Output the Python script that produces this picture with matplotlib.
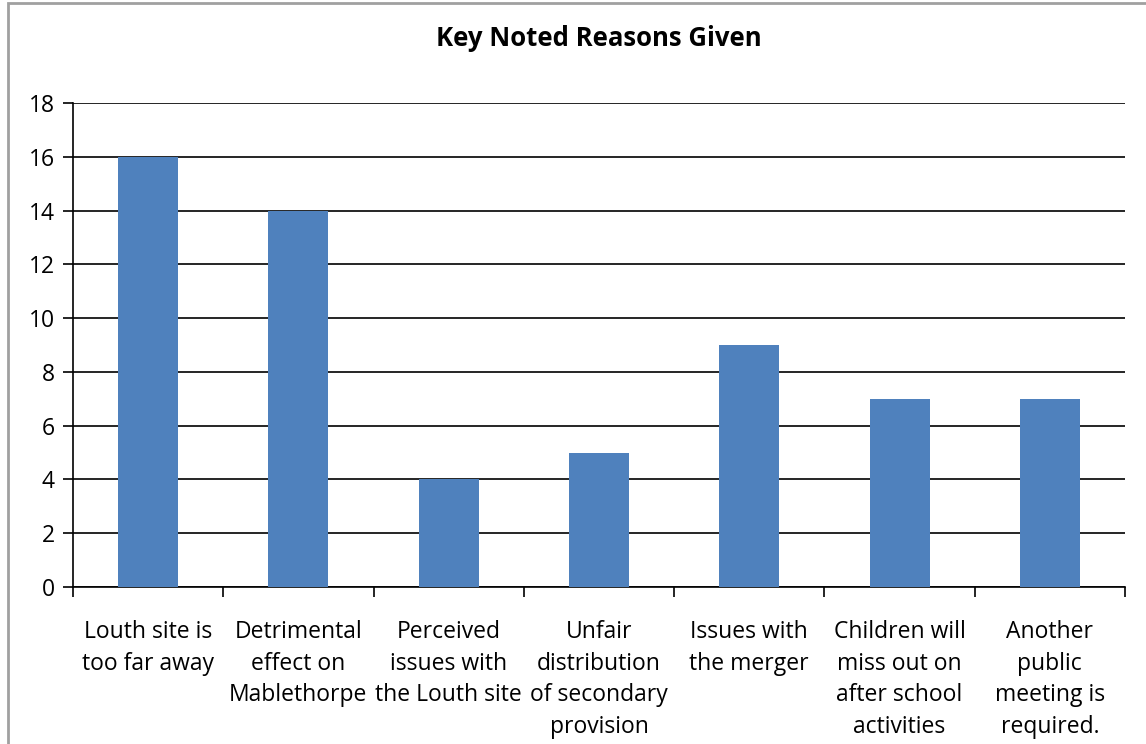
import matplotlib.pyplot as plt
import numpy as np
from matplotlib.patches import Rectangle

title = 'Key Noted Reasons Given'
reasons = ['Louth site is\ntoo far away',
           'Detrimental\neffect on\nMablethorpe',
           'Perceived\nissues with\nthe Louth site',
           'Unfair\ndistribution\nof secondary\nprovision',
           'Issues with\nthe merger',
           'Children will\nmiss out on\nafter school\nactivities',
           'Another\npublic\nmeeting is\nrequired.']
counts = [16, 14, 4, 5, 9, 7, 7]

plt.rcParams['font.family'] = ['Open Sans', 'DejaVu Sans']

fig = plt.figure(figsize=(11.46, 7.44), dpi=100)
ax = fig.add_axes([73/1146, 1 - 587/744, (1125 - 73)/1146, (587 - 103)/744])

# outer chart frame (cut off on right and bottom)
fig.patches.append(Rectangle((8/1146, -0.05), 1.1, 1 - 3/744 + 0.05,
                             transform=fig.transFigure, fill=False,
                             edgecolor='#a0a0a0', linewidth=2))

x = np.arange(len(reasons))
ax.bar(x, counts, width=0.4, color='#4F81BD', zorder=3)

ax.set_xlim(-0.5, len(reasons) - 0.5)
ax.set_ylim(0, 18)
ax.set_yticks(np.arange(0, 19, 2))
ax.yaxis.grid(True, color='black', linewidth=1.2)
ax.set_axisbelow(True)

ax.set_xticks(x)
ax.set_xticklabels(reasons, fontsize=16.5, linespacing=1.42)
ax.set_xticks(np.arange(-0.5, len(reasons), 1), minor=True)
ax.tick_params(axis='x', which='major', length=0, pad=24)
ax.tick_params(axis='x', which='minor', length=7, width=1.2, direction='out')
ax.tick_params(axis='y', labelsize=16.5, length=7, width=1.2, pad=6)

for side in ['top', 'right']:
    ax.spines[side].set_visible(False)
for side in ['left', 'bottom']:
    ax.spines[side].set_linewidth(1.2)

fig.text((73 + 1125) / 2 / 1146, 1 - 38/744, title, ha='center', va='center',
         fontsize=18.5, fontweight='bold')

fig.savefig('out.png', dpi=100)
